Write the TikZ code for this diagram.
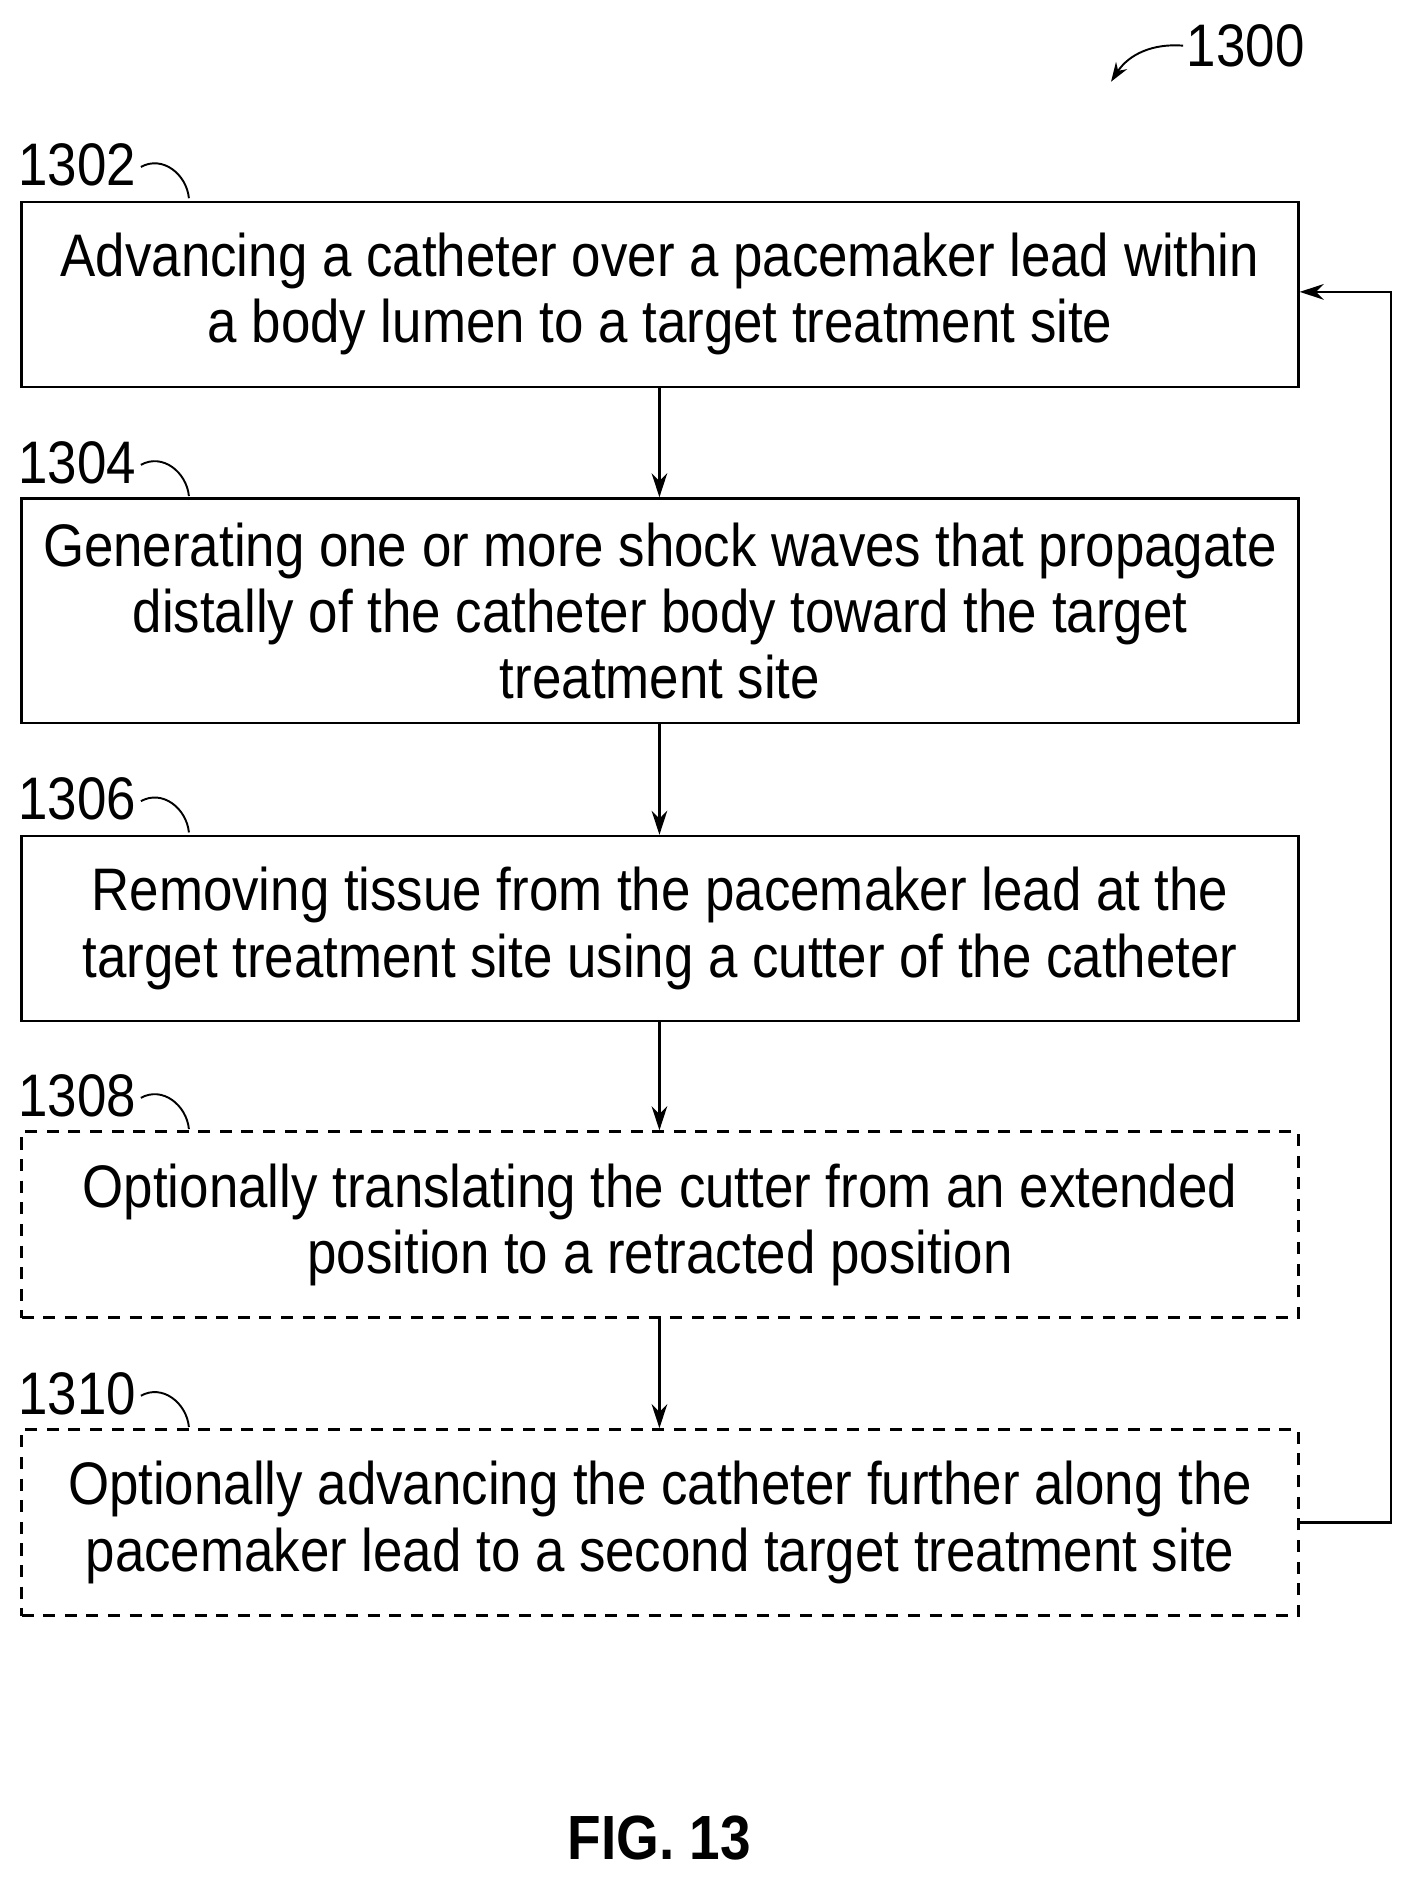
\documentclass[tikz,border=0pt]{standalone}
\usepackage{fontspec}
\setmainfont{Liberation Sans}[FakeStretch=0.88]
\usetikzlibrary{arrows.meta}
\begin{document}
\begin{tikzpicture}[x=1pt,y=-1pt,
  stepbox/.style={draw,line width=2pt,minimum width=1063pt,align=center,font=\fontsize{50}{55}\selectfont,inner sep=0pt},
  optbox/.style={stepbox,dash pattern=on 10pt off 8pt},
  lbl/.style={font=\fontsize{50}{55}\selectfont,anchor=west,inner sep=0pt},
  arr/.style={-{Stealth[length=20pt,width=13pt]},line width=2pt},
  sq/.style={line width=1.6pt}]
\useasboundingbox (0,0) rectangle (1180,1571);
\node[stepbox,minimum height=154pt] (b1) at (549.5,245) {Advancing a catheter over a pacemaker lead within\\a body lumen to a target treatment site};
\node[stepbox,minimum height=187pt] (b2) at (549.5,508.5) {Generating one or more shock waves that propagate\\distally of the catheter body toward the target\\treatment site};
\node[stepbox,minimum height=154pt] (b3) at (549.5,773) {Removing tissue from the pacemaker lead at the\\target treatment site using a cutter of the catheter};
\node[optbox,minimum height=155pt] (b4) at (549.5,1019.5) {Optionally translating the cutter from an extended\\position to a retracted position};
\node[optbox,minimum height=155pt] (b5) at (549.5,1267.5) {Optionally advancing the catheter further along the\\pacemaker lead to a second target treatment site};
\draw[arr] (b1.south -| 549,0) -- (b2.north -| 549,0);
\draw[arr] (b2.south -| 549,0) -- (b3.north -| 549,0);
\draw[arr] (b3.south -| 549,0) -- (b4.north -| 549,0);
\draw[arr] (b4.south -| 549,0) -- (b5.north -| 549,0);
\coordinate (r1) at (1158,1267.5);
\coordinate (r2) at (1158,243);
\draw[arr] (b5.east) -- (r1) -- (r2) -- (b1.east |- r2);
\node[lbl] (l2) at (15,137) {1302};
\node[lbl] (l4) at (15,385) {1304};
\node[lbl] (l6) at (15,665) {1306};
\node[lbl] (l8) at (15,912) {1308};
\node[lbl] (l10) at (15,1160) {1310};
\foreach \n in {l2,l4,l6,l8,l10}
  \draw[sq] ([xshift=4pt,yshift=-2pt]\n.east) .. controls +(18,-10) and +(-2,-20) .. +(40,26);
\node[lbl] (l0) at (988,38) {1300};
\coordinate (t0) at (925,68);
\draw[line width=1.6pt,-{Stealth[length=16pt,width=11pt]}] ([xshift=-3pt]l0.west) .. controls (960,36) and (940,45) .. (t0);
\node[font=\bfseries\fontsize{52}{58}\selectfont] (fig) at (549,1530) {FIG. 13};
\end{tikzpicture}
\end{document}
